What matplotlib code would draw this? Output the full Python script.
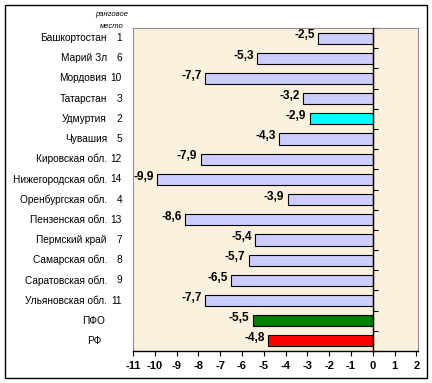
import matplotlib.pyplot as plt
from matplotlib.patches import Rectangle

# data
regions = ["Башкортостан", "Марий Зл", "Мордовия", "Татарстан", "Удмуртия",
           "Чувашия", "Кировская обл.", "Нижегородская обл.", "Оренбургская обл.",
           "Пензенская обл.", "Пермский край", "Самарская обл.", "Саратовская обл.",
           "Ульяновская обл.", "ПФО", "РФ"]
ranks = ["1", "6", "10", "3", "2", "5", "12", "14", "4", "13", "7", "8", "9", "11", "", ""]
values = [-2.5, -5.3, -7.7, -3.2, -2.9, -4.3, -7.9, -9.9, -3.9, -8.6, -5.4, -5.7,
          -6.5, -7.7, -5.5, -4.8]
x_ticks = list(range(-11, 3))

colors = ["#ccccff"] * len(values)
colors[4] = "#00ffff"
colors[14] = "#008000"
colors[15] = "#ff0000"

plt.rcParams["font.family"] = ["Liberation Sans", "DejaVu Sans"]

fig = plt.figure(figsize=(4.32, 3.83), dpi=100)
fig.patch.set_facecolor("white")
ax = fig.add_axes([133 / 432, 32 / 383, 285 / 432, 323 / 383])
ax.set_facecolor("#f9f0de")

pos = list(range(len(values)))
ax.barh(pos, values, height=0.55, color=colors, edgecolor="black", linewidth=0.8, zorder=3)

for y, v in zip(pos, values):
    ax.annotate(f"{v:.1f}".replace(".", ","), xy=(v, y), xytext=(-2.5, 2),
                textcoords="offset points", ha="right", va="center",
                fontsize=8.5, fontweight="bold", zorder=4)

ax.set_xlim(-11, 2.07)
ax.set_ylim(len(values) - 0.5, -0.5)

# y axis sits at zero, ticks between categories pointing right
ax.spines["left"].set_position(("data", 0))
ax.spines["left"].set_linewidth(1.0)
ax.spines["left"].set_zorder(5)
ax.set_yticks([p - 0.5 for p in pos] + [len(values) - 0.5])
ax.set_yticklabels([])
ax.tick_params(axis="y", direction="in", length=3.5, width=0.8)

for s in ["top", "right"]:
    ax.spines[s].set_color("#909090")
    ax.spines[s].set_linewidth(0.8)
ax.spines["bottom"].set_linewidth(1.0)

ax.set_xticks(x_ticks)
ax.set_xticklabels([str(t) for t in x_ticks], fontsize=8, fontweight="bold")
ax.tick_params(axis="x", direction="out", length=3.5, width=0.8, pad=4)

# left plot-area border (grey)
ax.plot([0, 0], [0, 1], transform=ax.transAxes, color="#909090", lw=0.8, clip_on=False)

# category labels with rank column
trans = ax.get_yaxis_transform()
for y, name, rk in zip(pos, regions, ranks):
    if rk:
        ax.text((107 - 133) / 285, y, name, transform=trans, ha="right", va="center", fontsize=7.3)
        ax.text((122 - 133) / 285, y, rk, transform=trans, ha="right", va="center", fontsize=7.3)
    else:
        ax.text((94 - 133) / 285, y, name, transform=trans, ha="center", va="center", fontsize=7.3)

fig.text(112 / 432, 1 - 15 / 383, "ранговое", ha="center", va="center",
         fontsize=5.5, style="italic")
fig.text(112 / 432, 1 - 26 / 383, "место", ha="center", va="center",
         fontsize=5.5, style="italic")

# outer frame
fig.add_artist(Rectangle((5 / 432, 5 / 383), 422 / 432, 373 / 383,
                         transform=fig.transFigure, fill=False, edgecolor="black", lw=1))

fig.savefig("out.png", dpi=100)
